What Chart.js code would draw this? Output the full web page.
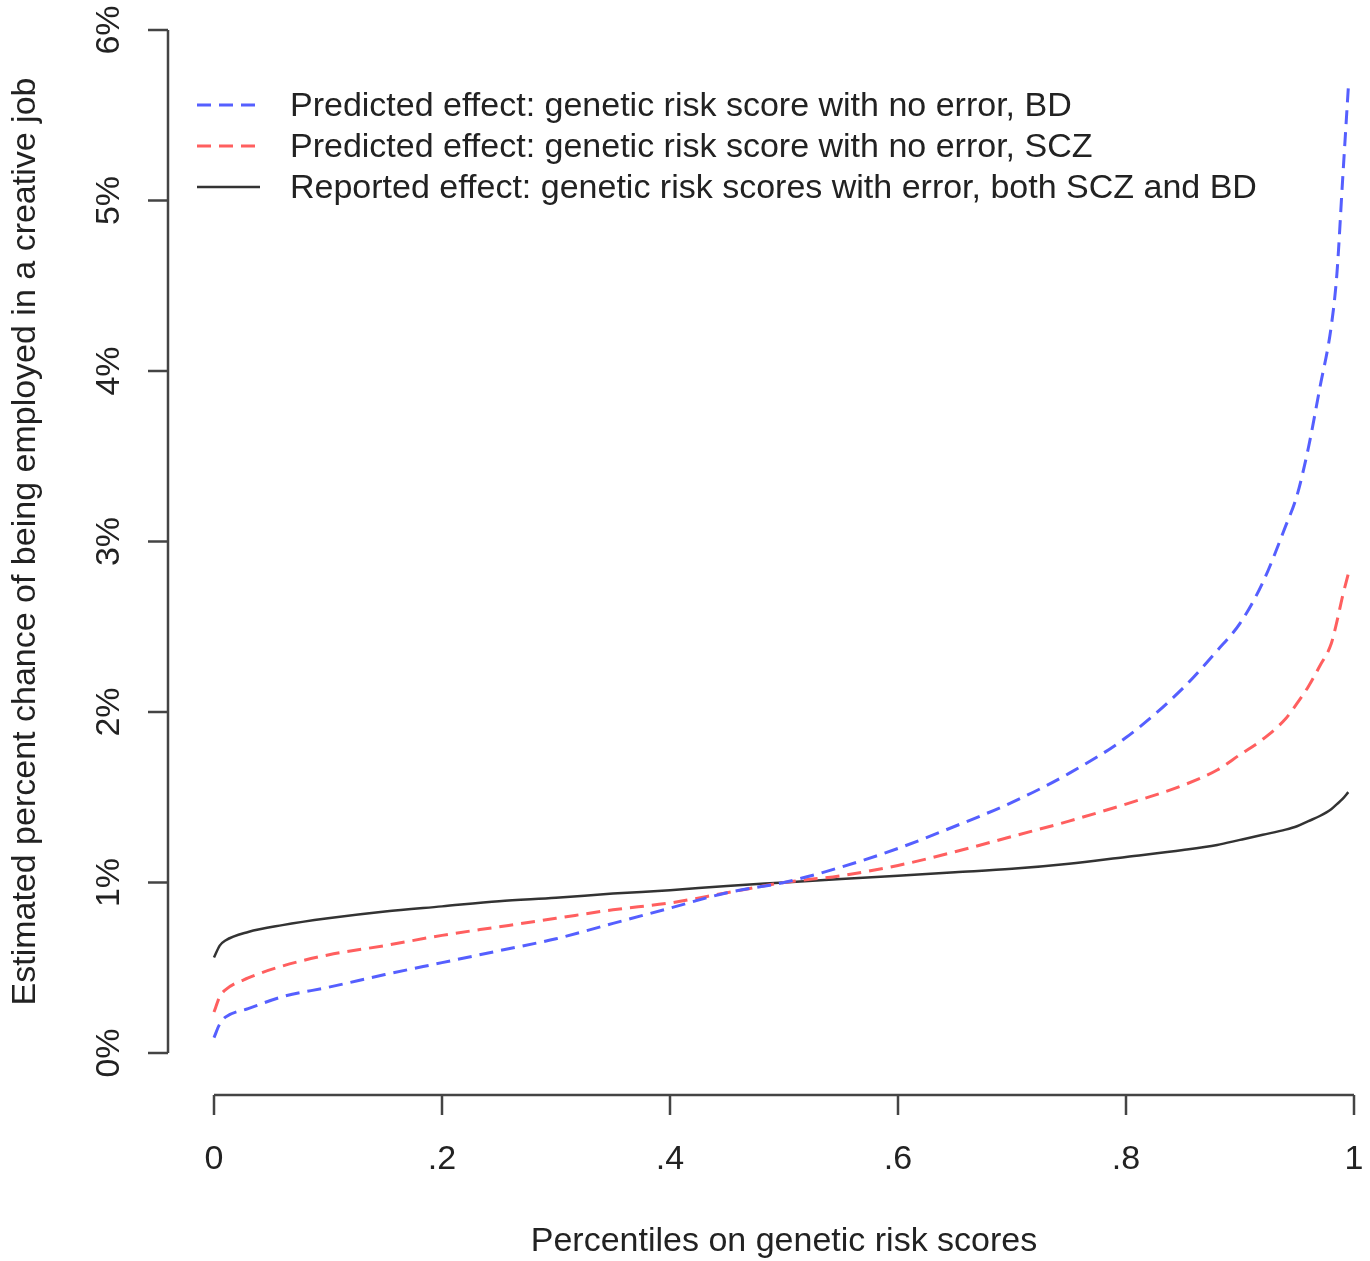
<!DOCTYPE html>
<html>
<head>
<meta charset="utf-8">
<script src="https://cdn.jsdelivr.net/npm/chart.js@4.4.1/dist/chart.umd.min.js"></script>
<style>
  body { margin: 0; background: #fff; }
  #wrap { width: 1370px; height: 1261px; }
</style>
</head>
<body>
<div id="wrap"><canvas id="myChart"></canvas></div>
<script>
// percentile positions
let percentiles = [0, 0.005, 0.01, 0.03, 0.06, 0.1, 0.15, 0.2, 0.25, 0.3, 0.35, 0.4, 0.45, 0.5,
  0.55, 0.6, 0.65, 0.7, 0.75, 0.8, 0.85, 0.88, 0.9, 0.92, 0.94, 0.95, 0.96, 0.97, 0.98, 0.985, 0.99, 0.995];

// estimated % chance, per curve
let bdValues = [0.09, 0.17, 0.21, 0.26, 0.33, 0.385, 0.46, 0.53, 0.60, 0.67, 0.76, 0.85, 0.94, 1.00,
  1.09, 1.20, 1.33, 1.47, 1.64, 1.85, 2.14, 2.36, 2.52, 2.76, 3.09, 3.27, 3.55, 3.90, 4.26, 4.57, 5.12, 5.66];
let sczValues = [0.24, 0.33, 0.37, 0.44, 0.51, 0.575, 0.63, 0.69, 0.74, 0.79, 0.84, 0.88, 0.94, 1.00,
  1.04, 1.10, 1.18, 1.27, 1.36, 1.46, 1.57, 1.66, 1.75, 1.84, 1.96, 2.05, 2.15, 2.27, 2.40, 2.53, 2.68, 2.81];
let reportedValues = [0.56, 0.63, 0.66, 0.71, 0.75, 0.79, 0.83, 0.86, 0.89, 0.91, 0.935, 0.955, 0.98, 1.00,
  1.02, 1.04, 1.06, 1.08, 1.11, 1.15, 1.19, 1.22, 1.25, 1.28, 1.31, 1.33, 1.36, 1.39, 1.43, 1.46, 1.49, 1.53];

let xTicks = [0, 0.2, 0.4, 0.6, 0.8, 1];
let xTickLabels = ["0", ".2", ".4", ".6", ".8", "1"];
let yTicks = [0, 1, 2, 3, 4, 5, 6];
let yTickLabels = ["0%", "1%", "2%", "3%", "4%", "5%", "6%"];

let seriesLabels = [
  "Predicted effect: genetic risk score with no error, BD",
  "Predicted effect: genetic risk score with no error, SCZ",
  "Reported effect: genetic risk scores with error, both SCZ and BD"
];
let xTitle = "Percentiles on genetic risk scores";
let yTitle = "Estimated percent chance of being employed in a creative job";

const FONT = '34px "Liberation Sans", Arial, sans-serif';
const INK = "#222";
const AXIS = "#444";

toPoints = (values) => values.map((v, i) => ({ x: percentiles[i], y: v }));

// base-R style detached axes + legend
const rAxes = {
  id: "rAxes",
  afterDraw(chart) {
    const ctx = chart.ctx;
    const xs = chart.scales.x;
    const ys = chart.scales.y;
    const area = chart.chartArea;
    ctx.save();
    ctx.strokeStyle = AXIS;
    ctx.lineWidth = 2.5;
    ctx.fillStyle = INK;
    ctx.font = FONT;

    // y axis
    const ax = area.left - 46;
    ctx.beginPath();
    ctx.moveTo(ax, ys.getPixelForValue(yTicks[0]));
    ctx.lineTo(ax, ys.getPixelForValue(yTicks[yTicks.length - 1]));
    yTicks.forEach((t) => {
      const py = ys.getPixelForValue(t);
      ctx.moveTo(ax, py);
      ctx.lineTo(ax - 20, py);
    });
    ctx.stroke();
    ctx.textAlign = "center";
    ctx.textBaseline = "middle";
    yTicks.forEach((t, i) => {
      ctx.save();
      ctx.translate(ax - 58, ys.getPixelForValue(t));
      ctx.rotate(-Math.PI / 2);
      ctx.fillText(yTickLabels[i], 0, 0);
      ctx.restore();
    });
    ctx.save();
    ctx.translate(ax - 142, (ys.getPixelForValue(0) + ys.getPixelForValue(6)) / 2);
    ctx.rotate(-Math.PI / 2);
    ctx.fillText(yTitle, 0, 0);
    ctx.restore();

    // x axis
    const ay = area.bottom + 42;
    ctx.beginPath();
    ctx.moveTo(xs.getPixelForValue(xTicks[0]), ay);
    ctx.lineTo(xs.getPixelForValue(xTicks[xTicks.length - 1]), ay);
    xTicks.forEach((t) => {
      const px = xs.getPixelForValue(t);
      ctx.moveTo(px, ay);
      ctx.lineTo(px, ay + 20);
    });
    ctx.stroke();
    xTicks.forEach((t, i) => {
      ctx.fillText(xTickLabels[i], xs.getPixelForValue(t), ay + 65);
    });
    ctx.fillText(xTitle, (xs.getPixelForValue(0) + xs.getPixelForValue(1)) / 2, ay + 147);

    // legend
    ctx.textAlign = "left";
    chart.data.datasets.forEach((ds, i) => {
      const ly = 105 + i * 41;
      ctx.save();
      ctx.strokeStyle = ds.borderColor;
      ctx.lineWidth = ds.borderWidth;
      ctx.setLineDash(ds.borderDash || []);
      ctx.beginPath();
      ctx.moveTo(197, ly);
      ctx.lineTo(260, ly);
      ctx.stroke();
      ctx.restore();
      ctx.fillText(ds.label, 290, ly + 2);
    });
    ctx.restore();
  }
};

let ctx = document.getElementById("myChart").getContext("2d");
let chart = new Chart(ctx, {
  type: "line",
  data: {
    datasets: [
      {
        label: seriesLabels[0],
        data: toPoints(bdValues),
        borderColor: "rgb(85, 95, 255)",
        borderWidth: 3,
        borderDash: [14, 8],
      },
      {
        label: seriesLabels[1],
        data: toPoints(sczValues),
        borderColor: "rgb(255, 95, 95)",
        borderWidth: 3,
        borderDash: [14, 8],
      },
      {
        label: seriesLabels[2],
        data: toPoints(reportedValues),
        borderColor: "#333",
        borderWidth: 2.5,
      },
    ]
  },
  options: {
    responsive: true,
    maintainAspectRatio: false,
    animation: false,
    layout: { padding: { left: 214, right: 16, top: 30, bottom: 208 } },
    elements: {
      point: { radius: 0 },
      line: { cubicInterpolationMode: "monotone", fill: false },
    },
    datasets: { line: { clip: false } },
    plugins: { legend: { display: false }, title: { display: false }, tooltip: { enabled: false } },
    scales: {
      x: { type: "linear", min: 0, max: 1, display: false },
      y: { type: "linear", min: 0, max: 6, display: false },
    },
  },
  plugins: [rAxes],
});
</script>
</body>
</html>
